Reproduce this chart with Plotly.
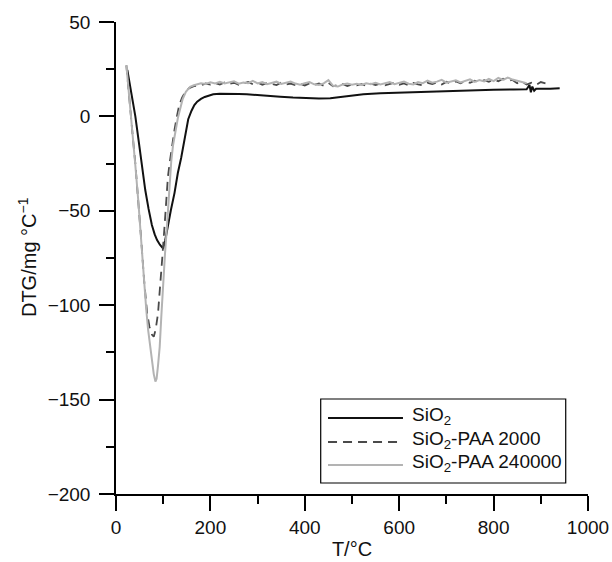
import plotly.graph_objects as go

# ---------------- data ----------------
T_sio2 = [24, 30, 36, 41, 48, 55, 62, 69, 76, 82, 87, 93, 97, 100, 104, 109, 116, 124,
          131, 138, 143, 147, 153, 160, 166, 172, 180, 188, 196, 206, 220, 240, 260, 277,
          300, 325, 348, 375, 404, 430, 454, 475, 500, 524, 560, 595, 640, 700, 760, 800,
          842, 870, 876, 879, 882, 886, 890, 900, 920, 940]
DTG_sio2 = [24.6, 16, 7.5, 0, -13, -26, -39, -49, -57.5, -62.5, -65.5, -68, -69.3, -70, -66,
            -58.5, -50, -40.5, -30, -22, -14.5, -9, -1.5, 3, 6, 7.8, 9.3, 10.3, 11, 11.7, 12,
            12.1, 11.9, 11.7, 11.2, 10.7, 10.4, 10.0, 9.6, 9.5, 9.6, 10.2, 11.0, 11.7, 12.3,
            12.6, 13.0, 13.4, 13.8, 14.1, 14.3, 14.4, 16.6, 12.8, 15.8, 13.6, 14.6, 14.5,
            14.7, 14.9]

T_paa2000 = [22, 26, 31, 36, 41, 47, 53, 59.5, 66, 71, 76, 80, 84, 89, 94, 98, 102.6, 106.8,
             110, 114, 119, 124, 129, 134, 140, 147, 155, 165,
             180, 190, 200, 210, 220, 230, 240, 250, 260, 270, 280, 290, 300, 310, 320, 330,
             340, 350, 360, 370, 380, 390, 400, 410, 420, 430, 440, 450, 460, 470, 480, 490,
             500, 510, 520, 530, 540, 550, 560, 570, 580, 590, 600, 610, 620, 630, 640, 650,
             660, 670, 680, 690, 700, 710, 720, 730, 740, 750, 760, 770, 780, 790, 800, 810,
             820, 830, 840, 850, 860, 870, 880, 890, 900, 910]
DTG_paa2000 = [27, 15, 1, -12, -25, -43, -64, -86.7, -104.3, -111.5, -115.5, -116.7, -113,
               -104.3, -90, -75, -59, -41, -32, -24, -15, -7, 0, 6, 10, 13, 15, 16,
               16.5, 17.4, 16.8, 17.7, 16.9, 18.0, 17.2, 17.8, 16.7, 17.5, 18.2, 17.0, 17.9,
               16.8, 17.6, 17.2, 16.6, 17.9, 16.9, 17.4, 16.5, 17.3, 16.4, 17.5, 16.7, 17.4,
               16.3, 17.8, 16.0, 16.7, 17.2, 16.1, 16.9, 16.4, 17.1, 16.2, 17.3, 16.6, 17.4,
               16.5, 17.2, 17.9, 16.8, 17.5, 16.4, 17.7, 17.0, 16.5, 17.8, 17.1, 18.0, 16.9,
               18.3, 17.4, 18.5, 17.6, 18.7, 17.8, 18.9, 18.1, 19.2, 18.3, 19.5, 18.6, 20.0,
               18.8, 19.3, 17.6, 18.4, 16.9, 17.8, 16.7, 18.2, 17.5]

T_paa240k = [22, 26, 31, 36, 41, 47, 53, 59, 64, 68, 73, 77, 80, 83.5, 86, 89, 92.6, 96,
             99.8, 104, 108, 112, 117, 121, 126, 131, 136, 141, 148, 157, 165,
             170, 180, 190, 200, 210, 220, 230, 240, 250, 260, 270, 280, 290, 300, 310, 320,
             330, 340, 350, 360, 370, 380, 390, 400, 410, 420, 430, 440, 450, 460, 470, 480,
             490, 500, 510, 520, 530, 540, 550, 560, 570, 580, 590, 600, 610, 620, 630, 640,
             650, 660, 670, 680, 690, 700, 710, 720, 730, 740, 750, 760, 770, 780, 790, 800,
             810, 820, 830, 840, 850, 860, 870]
DTG_paa240k = [27.2, 15, 0, -13, -26, -44, -66, -87, -102, -113, -123, -131, -136.5, -140.5,
               -139, -132, -122, -106, -88, -72, -58, -41, -24, -15, -7, -1, 4, 9, 13, 15.7,
               16.5,
               17.0, 17.6, 17.2, 18.1, 17.5, 18.3, 17.4, 17.9, 18.6, 17.3, 18.0, 17.6, 18.8,
               17.5, 18.2, 17.1, 17.9, 18.4, 17.2, 17.8, 18.5, 17.4, 16.8, 17.6, 18.2, 17.0,
               16.6, 17.5, 19.2, 16.2, 15.8, 16.9, 17.4, 16.8, 17.3, 16.6, 17.5, 17.0, 17.8,
               16.9, 17.6, 18.2, 17.1, 17.9, 18.5, 17.3, 16.9, 18.2, 17.6, 18.9, 17.8, 18.4,
               19.4, 17.9, 18.6, 19.1, 18.0, 18.8, 19.6, 18.3, 19.2, 18.5, 19.9, 18.7, 20.4,
               19.3, 20.6, 19.5, 18.9, 18.2, 17.6]

series_names = ["SiO<sub>2</sub>", "SiO<sub>2</sub>-PAA 2000", "SiO<sub>2</sub>-PAA 240000"]
x_ticks = [0, 200, 400, 600, 800, 1000]
y_ticks = [-200, -150, -100, -50, 0, 50]

# ---------------- styles ----------------
FONT = "Liberation Sans, Arial, Helvetica, sans-serif"
styles = [
    dict(color="#111111", width=2, dash="solid"),
    dict(color="#4a4a4a", width=1.8, dash="9px,6px"),
    dict(color="#b3b3b3", width=2, dash="solid"),
]

fig = go.Figure()
for name, xs, ys, st in zip(series_names,
                            [T_sio2, T_paa2000, T_paa240k],
                            [DTG_sio2, DTG_paa2000, DTG_paa240k],
                            styles):
    fig.add_trace(go.Scatter(x=xs, y=ys, mode="lines", name=name, line=st,
                             showlegend=False))

# ---------------- manual legend (long line samples, boxed) ----------------
L = dict(x0=0.4337, x1=0.9528, y0=0.0233, y1=0.2013)
fig.add_shape(type="rect", xref="paper", yref="paper", **L,
              line=dict(color="black", width=1.2), fillcolor="white", layer="above")
rows_y = [0.161, 0.1102, 0.0614]
for ry, name, st in zip(rows_y, series_names, styles):
    fig.add_shape(type="line", xref="paper", yref="paper", x0=0.4492, x1=0.608,
                  y0=ry, y1=ry, line=st, layer="above")
    fig.add_annotation(xref="paper", yref="paper", x=0.6229, y=ry + 0.004,
                       xanchor="left", yanchor="middle", text=name, showarrow=False,
                       font=dict(family=FONT, size=19, color="#111111"))

# y-axis title placed as rotated text
fig.add_annotation(xref="paper", yref="paper", x=-0.1886, y=0.502,
                   xanchor="center", yanchor="middle", textangle=-90,
                   text="DTG/mg °C<sup>−1</sup>", showarrow=False,
                   font=dict(family=FONT, size=20, color="#111111"))

axis_common = dict(
    showline=True, linecolor="black", linewidth=1.5, mirror=False,
    ticks="outside", ticklen=15, tickwidth=1.5, tickcolor="black",
    showgrid=False, zeroline=False,
    tickfont=dict(family=FONT, size=19, color="#111111"),
)

fig.update_layout(
    width=612, height=562,
    margin=dict(l=116, r=24, t=22, b=68, autoexpand=False),
    paper_bgcolor="white", plot_bgcolor="white",
    font=dict(family=FONT, size=19, color="#111111"),
    xaxis=dict(range=[0, 1000], tickvals=x_ticks, ticklabelstandoff=0,
               minor=dict(dtick=100, ticks="outside", ticklen=8, tickwidth=1.5,
                          tickcolor="black"),
               title=dict(text="T/°C", font=dict(family=FONT, size=20), standoff=5),
               **axis_common),
    yaxis=dict(range=[-200, 50], tickvals=y_ticks, ticklabelstandoff=5,
               minor=dict(dtick=25, ticks="outside", ticklen=8, tickwidth=1.5,
                          tickcolor="black"),
               **axis_common),
)

fig.write_html("out.html",
               config={"displayModeBar": False},
               post_script="document.body.style.margin='0px';"
                           "document.body.style.overflow='hidden';")
